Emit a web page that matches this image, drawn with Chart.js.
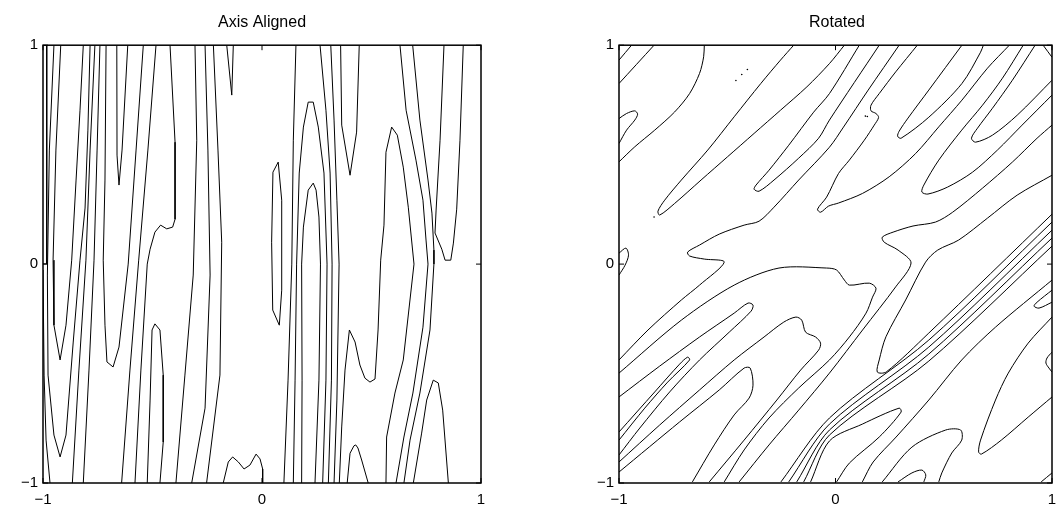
<!DOCTYPE html>
<html>
<head>
<meta charset="utf-8">
<script src="https://cdn.jsdelivr.net/npm/chart.js@4.4.1/dist/chart.umd.min.js"></script>
<style>
  html, body { margin: 0; padding: 0; background: #fff; }
  #wrap { position: relative; width: 1056px; height: 516px; }
  .panel { position: absolute; top: 0; width: 528px; height: 516px; }
</style>
</head>
<body>
<div id="wrap">
  <div class="panel" style="left:0"><canvas id="left" width="528" height="516"></canvas></div>
  <div class="panel" style="left:528px"><canvas id="right" width="528" height="516"></canvas></div>
</div>
<script>
const tickValues = [-1, 0, 1];
const tickText = ["\u22121", "0", "1"];
const titles = ["Axis Aligned", "Rotated"];

// contour lines, each a flat list of x,y pairs
const axisAligned = [
  [-0.983,1, -0.983,0.001, -1,0.001],
  [-1,-0.027, -0.995,-0.507, -0.986,-0.804, -0.968,-1],
  [-0.950,1, -0.971,0.521, -0.980,-0.050, -0.977,-0.507, -0.950,-0.781, -0.922,-0.881, -0.895,-0.781, -0.862,-0.356, -0.831,0.018, -0.808,0.256, -0.795,0.612, -0.785,1],
  [-0.919,1, -0.941,0.521, -0.954,0.018, -0.950,-0.279, -0.922,-0.438, -0.895,-0.279, -0.869,0.018, -0.849,0.384, -0.831,0.703, -0.816,1],
  [-0.763,1, -0.785,0.521, -0.804,0.018, -0.836,-0.484, -0.866,-1],
  [-0.740,1, -0.753,0.521, -0.767,0.018, -0.790,-0.484, -0.816,-1],
  [-0.712,1, -0.717,0.384, -0.725,0.018, -0.717,-0.279, -0.708,-0.447, -0.680,-0.470, -0.653,-0.379, -0.611,0, -0.575,0.521, -0.542,1],
  [-0.663,1, -0.662,0.498, -0.653,0.361, -0.639,0.521, -0.613,1],
  [-0.484,1, -0.521,0.521, -0.563,0.018, -0.603,-0.484, -0.641,-1],
  [-0.420,1, -0.397,0.557, -0.397,0.205, -0.408,0.169, -0.435,0.161, -0.463,0.178, -0.489,0.146, -0.511,0.068, -0.524,0, -0.553,-0.484, -0.580,-1],
  [-0.524,-1, -0.511,-0.621, -0.502,-0.301, -0.489,-0.273, -0.466,-0.301, -0.451,-0.507, -0.451,-0.813, -0.466,-1],
  [-0.306,1, -0.298,0.566, -0.314,-0.050, -0.352,-0.507, -0.393,-1],
  [-0.260,1, -0.247,0.521, -0.237,-0.050, -0.260,-0.658, -0.321,-1],
  [-0.222,1, -0.201,0.521, -0.184,0.100, -0.192,-0.507, -0.253,-1],
  [-0.161,1, -0.138,0.772, -0.131,1],
  [-0.177,-1, -0.154,-0.904, -0.134,-0.881, -0.108,-0.904, -0.082,-0.936, -0.055,-0.918, -0.027,-0.868, -0.009,-0.890, 0.003,-0.936, 0.003,-1],
  [0.074,0.466, 0.050,0.420, 0.044,0.100, 0.049,-0.210, 0.079,-0.279, 0.090,-0.119, 0.090,0.292, 0.074,0.466],
  [0.155,1, 0.143,0.566, 0.136,0, 0.119,-0.530, 0.100,-1],
  [0.143,-1, 0.151,-0.530, 0.158,0, 0.170,0.416, 0.189,0.626, 0.211,0.740, 0.234,0.740, 0.257,0.626, 0.283,0.416, 0.297,0, 0.292,-0.530, 0.277,-1],
  [0.181,-1, 0.183,-0.530, 0.181,0, 0.189,0.169, 0.211,0.338, 0.234,0.370, 0.247,0.338, 0.260,0.215, 0.267,0, 0.260,-0.530, 0.242,-1],
  [0.265,1, 0.292,0.703, 0.311,0.416, 0.320,0, 0.317,-0.530, 0.303,-1],
  [0.314,1, 0.329,0.658, 0.342,0.292, 0.352,0, 0.342,-0.621, 0.329,-1],
  [0.359,1, 0.364,0.635, 0.402,0.406, 0.432,0.603, 0.444,1],
  [0.353,-1, 0.364,-0.744, 0.379,-0.484, 0.399,-0.301, 0.425,-0.356, 0.447,-0.461, 0.470,-0.521, 0.493,-0.539, 0.516,-0.525, 0.530,-0.301, 0.542,0.018, 0.557,0.178, 0.566,0.511, 0.592,0.626, 0.618,0.589, 0.645,0.443, 0.668,0.260, 0.694,0, 0.645,-0.438, 0.607,-0.589, 0.569,-0.790, 0.566,-1],
  [0.389,-1, 0.402,-0.864, 0.420,-0.830, 0.428,-0.826, 0.438,-0.840, 0.455,-0.895, 0.485,-1],
  [0.630,1, 0.658,0.703, 0.703,0.475, 0.735,0.292, 0.749,0.110, 0.758,0, 0.735,-0.288, 0.689,-0.589, 0.648,-0.790, 0.612,-1],
  [0.688,1, 0.721,0.658, 0.758,0.384, 0.776,0.233, 0.785,0.064, 0.785,0, 0.767,-0.301, 0.721,-0.589, 0.676,-0.804, 0.648,-1],
  [0.831,1, 0.813,0.566, 0.795,0.247, 0.790,0.142, 0.821,0.068, 0.836,0.018, 0.862,0.018, 0.874,0.096, 0.889,0.251, 0.904,0.566, 0.919,1],
  [0.691,-1, 0.729,-0.772, 0.752,-0.621, 0.782,-0.530, 0.805,-0.543, 0.825,-0.667, 0.851,-1]
];

const rotated = [
  [-1,0.932, -0.942,1],
  [-1,0.825, -0.838,1],
  [-1,0.665, -0.965,0.688, -0.927,0.700, -0.914,0.685, -0.927,0.658, -0.965,0.612, -1,0.551],
  [-1,0.467, -0.927,0.536, -0.835,0.612, -0.743,0.695, -0.674,0.779, -0.628,0.871, -0.609,0.947, -0.606,1],
  [-0.193,1, -0.254,0.932, -0.345,0.825, -0.468,0.673, -0.590,0.521, -0.712,0.384, -0.789,0.292, -0.820,0.242, -0.812,0.224, -0.743,0.277, -0.621,0.384, -0.499,0.490, -0.376,0.597, -0.254,0.703, -0.132,0.810, -0.028,0.916, 0.041,1],
  [0.110,1, -0.028,0.779, -0.101,0.694, -0.216,0.543, -0.307,0.429, -0.367,0.361, -0.376,0.342, -0.353,0.333, -0.284,0.384, -0.170,0.484, -0.078,0.575, -0.028,0.658, 0.202,1],
  [0.294,1, 0.151,0.795, 0.037,0.626, -0.028,0.534, -0.170,0.384, -0.284,0.260, -0.353,0.196, -0.422,0.178, -0.537,0.137, -0.628,0.087, -0.683,0.055, -0.674,0.037, -0.606,0.023, -0.514,0.009, -0.628,-0.096, -0.712,-0.164, -0.866,-0.301, -1,-0.438],
  [0.378,1, 0.278,0.878, 0.202,0.779, 0.164,0.726, 0.164,0.700, 0.187,0.688, 0.199,0.670, 0.179,0.635, 0.133,0.566, 0.064,0.475, 0.014,0.414, -0.041,0.306, -0.083,0.251, -0.069,0.237, -0.032,0.265, 0.014,0.279, 0.125,0.323, 0.248,0.399, 0.370,0.505, 0.477,0.627, 0.584,0.749, 0.702,0.895, 0.803,1],
  [0.584,1, 0.431,0.795, 0.335,0.667, 0.294,0.607, 0.287,0.584, 0.303,0.575, 0.431,0.671, 0.584,0.825, 0.670,0.968, 0.683,1],
  [0.922,1, 0.817,0.840, 0.725,0.712, 0.656,0.621, 0.628,0.575, 0.647,0.557, 0.725,0.589, 0.839,0.680, 1,0.840],
  [0.867,1, 0.771,0.849, 0.679,0.726, 0.583,0.612, 0.477,0.475, 0.408,0.361, 0.399,0.329, 0.427,0.320, 0.518,0.352, 0.633,0.420, 0.748,0.521, 0.862,0.635, 1,0.772],
  [1,0.635, 0.931,0.575, 0.817,0.466, 0.679,0.347, 0.541,0.237, 0.462,0.192, 0.358,0.174, 0.266,0.146, 0.216,0.123, 0.225,0.100, 0.289,0.064, 0.349,0.005, 0.278,-0.104, 0.125,-0.301, -0.028,-0.498, -0.170,-0.667, -0.307,-0.826, -0.445,-0.995],
  [-1,0.050, -0.968,0.073, -0.956,0.041, -0.972,-0.005, -1,-0.050],
  [-1,-0.498, -0.712,-0.256, -0.468,-0.096, -0.261,-0.018, -0.041,-0.018, 0.005,-0.027, 0.041,-0.073, 0.064,-0.096, 0.156,-0.087, 0.187,-0.110, 0.171,-0.151, 0.141,-0.224, 0.064,-0.333, -0.028,-0.438, -0.170,-0.566, -0.307,-0.703, -0.422,-0.849, -0.514,-0.995],
  [-1,-0.607, -0.812,-0.466, -0.628,-0.333, -0.468,-0.224, -0.404,-0.178, -0.381,-0.187, -0.390,-0.215, -0.491,-0.311, -0.628,-0.438, -0.766,-0.584, -0.904,-0.749, -1,-0.872],
  [-1,-0.767, -0.835,-0.584, -0.720,-0.457, -0.683,-0.425, -0.674,-0.438, -0.775,-0.539, -0.881,-0.658, -1,-0.804],
  [-1,-0.904, -0.812,-0.735, -0.628,-0.575, -0.468,-0.438, -0.330,-0.333, -0.239,-0.265, -0.183,-0.242, -0.156,-0.256, -0.138,-0.311, -0.092,-0.333, -0.069,-0.361, -0.078,-0.393, -0.161,-0.484, -0.271,-0.621, -0.422,-0.804, -0.583,-0.995],
  [-1,-0.950, -0.720,-0.721, -0.537,-0.575, -0.422,-0.475, -0.394,-0.475, -0.381,-0.553, -0.399,-0.612, -0.468,-0.689, -0.560,-0.826, -0.661,-0.995],
  [-0.252,-0.995, -0.028,-0.703, 0.431,-0.347, 1,0.192],
  [-0.216,-0.995, -0.028,-0.731, 0.431,-0.379, 1,0.155],
  [-0.179,-0.995, -0.028,-0.758, 0.431,-0.411, 1,0.119],
  [-0.147,-0.995, -0.028,-0.781, 0.431,-0.443, 1,0.082],
  [-0.115,-0.995, -0.028,-0.808, 0.124,-0.731, 0.294,-0.658, 0.303,-0.676, 0.202,-0.790, 0.064,-0.909, 0.005,-0.995],
  [1,0.406, 0.839,0.315, 0.702,0.210, 0.569,0.110, 0.472,0.064, 0.416,0.009, 0.324,-0.164, 0.233,-0.332, 0.202,-0.438, 0.193,-0.493, 0.234,-0.493, 0.431,-0.315, 1,0.228],
  [1,-0.242, 0.890,-0.361, 0.798,-0.498, 0.739,-0.621, 0.670,-0.804, 0.661,-0.858, 0.674,-0.868, 0.766,-0.804, 0.890,-0.699, 1,-0.607],
  [1,-0.073, 0.739,-0.288, 0.583,-0.438, 0.431,-0.621, 0.280,-0.790, 0.174,-0.904, 0.124,-0.995],
  [0.216,-0.995, 0.353,-0.836, 0.509,-0.758, 0.578,-0.758, 0.583,-0.804, 0.537,-0.863, 0.491,-0.954, 0.477,-0.995],
  [0.289,-0.995, 0.353,-0.954, 0.399,-0.941, 0.417,-0.963, 0.408,-0.995],
  [1,-0.119, 0.931,-0.174, 0.917,-0.192, 0.940,-0.201, 1,-0.174],
  [1,-0.402, 0.977,-0.429, 0.972,-0.452, 0.986,-0.475, 1,-0.493],
  [0.950,-0.995, 1,-0.954],
  [0.959,1, 1,0.945]
];

// tiny isolated contour specks in the rotated panel
const rotatedSpecks = [-0.460,0.839, -0.433,0.866, -0.407,0.889, -0.838,0.215, 0.138,0.676, 0.147,0.674];

const font = "'Liberation Sans', Arial, Helvetica, sans-serif";

function toPoints(flat) {
  const pts = [];
  for (let i = 0; i < flat.length; i += 2) pts.push({ x: flat[i], y: flat[i + 1] });
  return pts;
}

// box, inward ticks and tick labels, drawn from the chart's own scales
const frame = {
  id: "frame",
  afterDatasetsDraw(chart) {
    const { ctx, chartArea: a, scales: { x, y } } = chart;
    ctx.save();
    ctx.strokeStyle = "#000";
    ctx.lineWidth = 1.5;
    ctx.strokeRect(a.left, a.top, a.right - a.left, a.bottom - a.top);
    ctx.lineWidth = 1;
    ctx.beginPath();
    tickValues.forEach(v => {
      const px = x.getPixelForValue(v);
      const py = y.getPixelForValue(v);
      ctx.moveTo(px, a.bottom); ctx.lineTo(px, a.bottom - 5);
      ctx.moveTo(px, a.top); ctx.lineTo(px, a.top + 5);
      ctx.moveTo(a.left, py); ctx.lineTo(a.left + 5, py);
      ctx.moveTo(a.right, py); ctx.lineTo(a.right - 5, py);
    });
    ctx.stroke();
    ctx.fillStyle = "#000";
    ctx.font = "15px " + font;
    ctx.textAlign = "center";
    ctx.textBaseline = "middle";
    tickValues.forEach((v, i) => {
      ctx.fillText(tickText[i], x.getPixelForValue(v), a.bottom + 17);
    });
    ctx.textAlign = "right";
    tickValues.forEach((v, i) => {
      ctx.fillText(tickText[i], a.left - 5, y.getPixelForValue(v));
    });
    ctx.restore();
  }
};

function makeChart(id, lines, specks, title, padLeft, padRight, tension) {
  const datasets = lines.map(l => ({
    data: toPoints(l),
    showLine: true,
    borderColor: "#000",
    borderWidth: 1,
    pointRadius: 0,
    fill: false,
    tension: tension
  }));
  if (specks.length) {
    datasets.push({
      data: toPoints(specks),
      showLine: false,
      pointRadius: 0.8,
      pointBorderWidth: 0,
      pointBackgroundColor: "#000"
    });
  }
  return new Chart(document.getElementById(id), {
    type: "scatter",
    data: { datasets },
    options: {
      responsive: false,
      animation: false,
      layout: { padding: { left: padLeft, right: padRight, top: 0, bottom: 33 } },
      plugins: {
        legend: { display: false },
        tooltip: { enabled: false },
        title: {
          display: true,
          text: title,
          color: "#000",
          font: { family: font, size: 16, weight: "normal" },
          padding: { top: 13, bottom: 13 }
        }
      },
      scales: {
        x: { type: "linear", min: -1, max: 1, display: false },
        y: { type: "linear", min: -1, max: 1, display: false }
      }
    },
    plugins: [frame]
  });
}

makeChart("left", axisAligned, [], titles[0], 43, 47, 0);
makeChart("right", rotated, rotatedSpecks, titles[1], 91, 1, 0.3);
</script>
</body>
</html>
